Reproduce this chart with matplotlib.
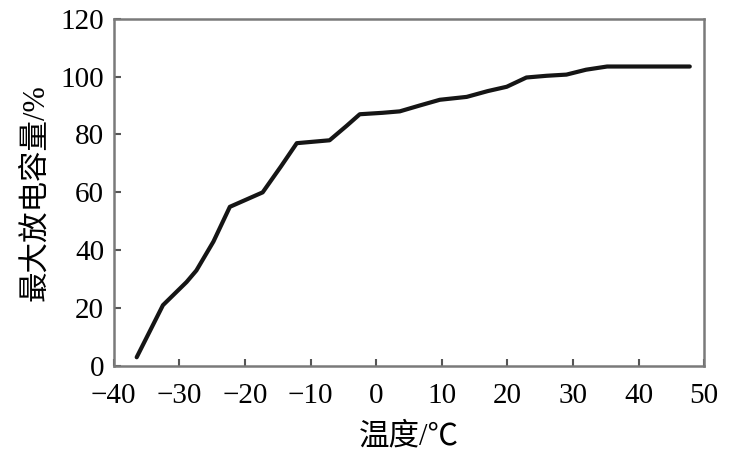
import matplotlib.pyplot as plt

temp = [-36.5, -32.5, -28.9, -27.4, -24.8, -22.3, -17.3, -14.5, -12.1, -7.1, -4.5,
        -2.5, 1.0, 3.6, 6.6, 9.7, 13.8, 17.0, 19.9, 22.9, 26.0, 29.0, 32.0, 35.2, 47.8]
capacity = [3, 21, 29, 33, 43, 55, 60, 69, 77, 78, 83,
            87, 87.5, 88, 90, 92, 93, 95, 96.5, 99.7, 100.3, 100.7, 102.4, 103.5, 103.5]

xticks = [-40, -30, -20, -10, 0, 10, 20, 30, 40, 50]
yticks = [0, 20, 40, 60, 80, 100, 120]

plt.rcParams['font.family'] = ['Liberation Serif', 'Noto Sans CJK SC', 'DejaVu Sans']
plt.rcParams['axes.unicode_minus'] = True

fig = plt.figure(figsize=(7.29, 4.58), dpi=100)
ax = fig.add_axes([0.156, 0.201, 0.81, 0.758])

ax.plot(temp, capacity, color='#151515', linewidth=3.0, solid_capstyle='round')

ax.set_xlim(-40, 50)
ax.set_ylim(0, 120)
ax.set_xticks(xticks)
ax.set_yticks(yticks)
ax.tick_params(direction='in', length=5, width=1.5, color='#555555', labelsize=21)
ax.tick_params(axis='x', pad=12)
ax.tick_params(axis='y', pad=7)

for s in ax.spines.values():
    s.set_color('#7a7a7a')
    s.set_linewidth(1.8)

ax.set_xlabel('温度/℃', fontsize=22, labelpad=10)
ax.set_ylabel('最大放电容量/%', fontsize=22, labelpad=7)

fig.savefig('out.png', dpi=100)
